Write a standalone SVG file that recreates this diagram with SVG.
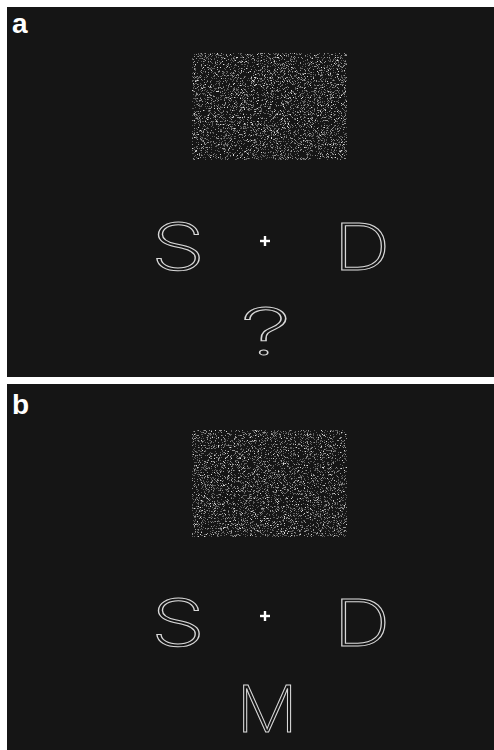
<svg xmlns="http://www.w3.org/2000/svg" width="494" height="750" viewBox="0 0 494 750">
  <style>
    .panel { fill: #151515; }
    .label { font-family: "Liberation Sans", Arial, sans-serif; font-weight: bold; font-size: 28px; fill: #ffffff; }
    .glyph { font-family: Inter, "Liberation Sans", sans-serif; font-weight: 200; font-size: 65px; fill: none; stroke: #d8d8d8; stroke-width: 1; text-anchor: middle; }
    .fix { stroke: #ffffff; stroke-width: 2.4; }
  </style>
  <defs>
    <!-- sparse random dot field -->
    <filter id="dots" x="0" y="0" width="1" height="1" filterUnits="objectBoundingBox" color-interpolation-filters="sRGB">
      <feTurbulence type="fractalNoise" baseFrequency="1.7" numOctaves="2" seed="7" result="n"/>
      <feColorMatrix in="n" type="matrix" values="0 0 0 0 1  0 0 0 0 1  0 0 0 0 1  1.6 0 0 0 -0.3" result="a"/>
      <feComponentTransfer in="a">
        <feFuncA type="discrete" tableValues="0 0 0 0 0 0.3 0.55 0.85"/>
      </feComponentTransfer>
    </filter>
  </defs>

  <rect width="494" height="750" fill="#ffffff"/>

  <!-- panel a -->
  <g id="panel-a">
    <rect class="panel" x="7" y="7" width="487" height="370"/>
    <text class="label" x="12" y="33">a</text>
    <rect id="noise-a" x="192" y="53" width="155" height="107" fill="#000" filter="url(#dots)"/>
    <g id="S-a"><text class="glyph" transform="translate(178 270) scale(1.35 1)">S</text></g>
    <g id="fix-a" class="fix"><line x1="265" y1="236" x2="265" y2="246"/><line x1="260" y1="241" x2="270" y2="241"/></g>
    <g id="D-a"><text class="glyph" transform="translate(362 270) scale(1.22 1)">D</text></g>
    <g id="Q-a"><text class="glyph" transform="translate(266 355) scale(1.6 1)">?</text></g>
  </g>

  <!-- panel b -->
  <g id="panel-b">
    <rect class="panel" x="7" y="384" width="487" height="366"/>
    <text class="label" x="12" y="414">b</text>
    <rect id="noise-b" x="192" y="430" width="155" height="107" fill="#000" filter="url(#dots)"/>
    <g id="S-b"><text class="glyph" transform="translate(178 646) scale(1.35 1)">S</text></g>
    <g id="fix-b" class="fix"><line x1="265" y1="611" x2="265" y2="621"/><line x1="260" y1="616" x2="270" y2="616"/></g>
    <g id="D-b"><text class="glyph" transform="translate(362 646) scale(1.22 1)">D</text></g>
    <g id="M-b"><text class="glyph" transform="translate(267 732) scale(1.05 1)">M</text></g>
  </g>
</svg>
